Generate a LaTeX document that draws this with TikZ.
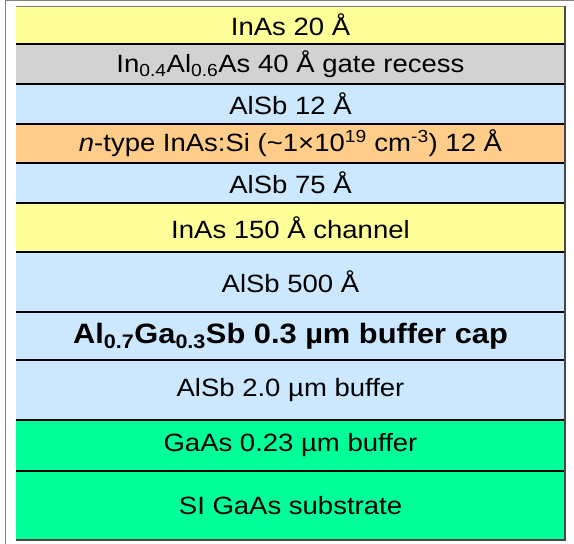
\documentclass[tikz,border=0pt]{standalone}
\usepackage{fontspec}
\setmainfont{Liberation Sans}[FakeStretch=1.1]
\usetikzlibrary{positioning}
\definecolor{inas}{HTML}{FFFF99}
\definecolor{inalas}{HTML}{D2D2D2}
\definecolor{alsb}{HTML}{CCE8FF}
\definecolor{doped}{HTML}{FFCC8A}
\definecolor{gaas}{HTML}{00FF99}
\definecolor{framegray}{HTML}{808080}
\definecolor{edgegray}{HTML}{484848}

\begin{document}
\begin{tikzpicture}[x=1pt, y=1pt, node distance=0pt,
    film/.style={rectangle, inner sep=0pt, outer sep=0pt,
      minimum width=549pt, minimum height=#1,
      font=\fontsize{25}{30}\selectfont},
    sepline/.style={black, line width=1.3pt},
    edgeline/.style={edgegray, line width=1.8pt}]
  \useasboundingbox (0,0) rectangle (574,544);

  \node[film=38pt, fill=inas, anchor=north west] (inas1) at (16,538) {InAs 20 Å};
  \node[film=40pt, fill=inalas, below=of inas1] (inalas) {In\textsubscript{0.4}Al\textsubscript{0.6}As 40 Å gate recess};
  \node[film=40pt, fill=alsb, below=of inalas] (alsb1) {AlSb 12 Å};
  \node[film=39pt, fill=doped, below=of alsb1] (dope) {\textit{n}-type InAs:Si (\textasciitilde1×10\textsuperscript{19} cm\textsuperscript{-3}) 12 Å};
  \node[film=40pt, fill=alsb, below=of dope] (alsb2) {AlSb 75 Å};
  \node[film=49pt, fill=inas, below=of alsb2] (chan) {InAs 150 Å channel};
  \node[film=60pt, fill=alsb, below=of chan] (alsb3) {AlSb 500 Å};
  \node[film=48pt, fill=alsb, below=of alsb3, font=\fontsize{28}{32}\selectfont\bfseries] (cap) {Al\textsubscript{0.7}Ga\textsubscript{0.3}Sb 0.3 µm buffer cap};
  \node[film=60pt, fill=alsb, below=of cap] (alsb4) {AlSb 2.0 µm buffer};
  \node[film=51pt, fill=gaas, below=of alsb4] (gaas1) {GaAs 0.23 µm buffer};
  \node[film=69pt, fill=gaas, below=of gaas1] (sub) {SI GaAs substrate};

  % interfaces
  \foreach \a in {inas1,inalas,alsb1,dope,alsb2,chan,alsb3,cap,alsb4,gaas1}
    \draw[sepline] (\a.south west) -- (\a.south east);

  \draw[framegray, line width=0.6pt] (inas1.north west) -- (inas1.north east);
  \draw[edgeline] (inas1.north east) -- (sub.south east) -- (sub.south west);

  % outer frame
  \draw[framegray, line width=1pt] (5.5,0) -- (5.5,543.3) -- (574,543.3);
\end{tikzpicture}
\end{document}
